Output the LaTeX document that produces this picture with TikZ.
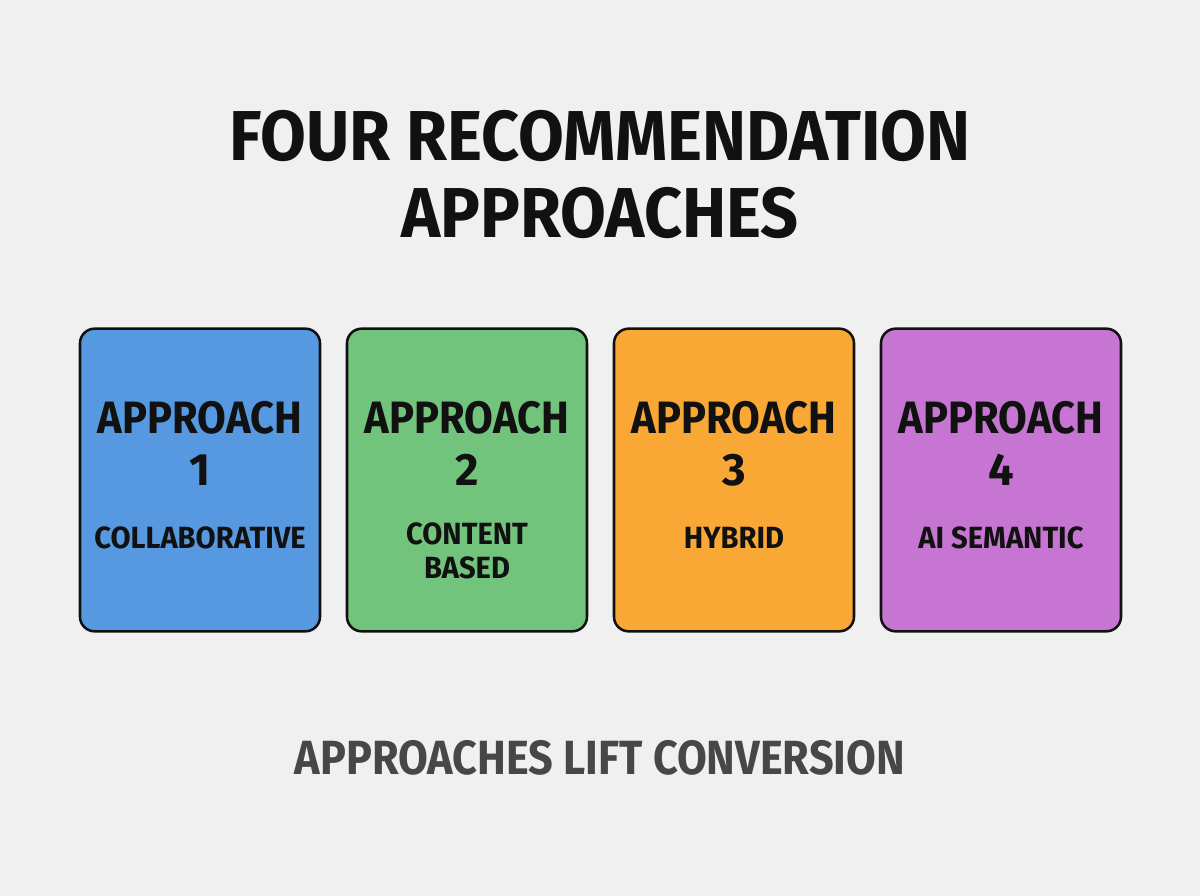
\documentclass[tikz,border=0pt]{standalone}
\usepackage{fontspec}
\setmainfont{Fira Sans}[BoldFont={Fira Sans Bold}]
\definecolor{bg}{HTML}{F0F0F0}
\definecolor{cblue}{HTML}{5699E1}
\definecolor{cgreen}{HTML}{72C47C}
\definecolor{corange}{HTML}{F9A835}
\definecolor{cpurple}{HTML}{C775D3}
\definecolor{ink}{HTML}{111111}
\definecolor{foot}{HTML}{474747}
\newcommand{\hs}[2]{\scalebox{#1}[1]{#2}}
\begin{document}
\begin{tikzpicture}[x=0.75pt,y=-0.75pt,
  card/.style={draw=ink,line width=1.9pt,rounded corners=11pt,minimum width=180pt,minimum height=227pt,inner sep=0pt},
  head/.style={font=\bfseries\fontsize{34}{36}\selectfont,text=ink,inner sep=0pt},
  sub/.style={font=\bfseries\fontsize{23}{25}\selectfont,text=ink,inner sep=0pt,align=center},
  ttl/.style={font=\bfseries\fontsize{53}{55}\selectfont,text=ink,inner sep=0pt}]
\fill[bg] (0,0) rectangle (1200,896);
\useasboundingbox (0,0) rectangle (1200,896);
\node[ttl] (t1) at (600,136) {\hs{0.94}{FOUR RECOMMENDATION}};
\node[ttl] (t2) at (600,213) {\hs{0.94}{APPROACHES}};
\node[card,fill=cblue] (c1) at (200,480) {};
\node[card,fill=cgreen] (c2) at (467,480) {};
\node[card,fill=corange] (c3) at (734,480) {};
\node[card,fill=cpurple] (c4) at (1001,480) {};
\foreach \i/\x in {1/200,2/467,3/734,4/1001}{
  \node[head] (h\i) at (\x,418) {\hs{0.92}{APPROACH}};
  \node[head] (n\i) at (\x,470) {\i};
}
\node[sub] (s1) at (200,538) {\hs{0.95}{COLLABORATIVE}};
\node[sub] (s2) at (467,551) {\hs{0.95}{CONTENT}\\\hs{0.95}{BASED}};
\node[sub] (s3) at (734,538) {\hs{0.95}{HYBRID}};
\node[sub] (s4) at (1001,538) {\hs{0.95}{AI SEMANTIC}};
\node[font=\bfseries\fontsize{36}{38}\selectfont,text=foot,inner sep=0pt] (f) at (600,758) {\hs{0.9}{APPROACHES LIFT CONVERSION}};
\end{tikzpicture}
\end{document}
